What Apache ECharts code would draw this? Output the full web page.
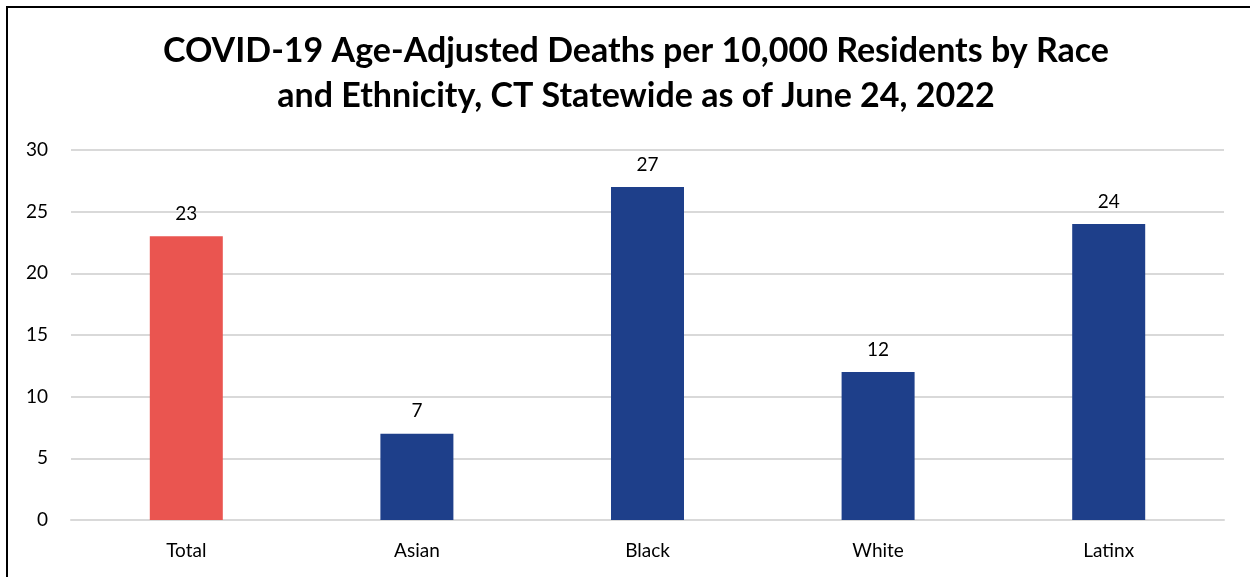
<!DOCTYPE html>
<html>
<head>
<meta charset="utf-8">
<style>
  html, body { margin: 0; padding: 0; background: #fff; }
  #chart { width: 1250px; height: 577px; }
</style>
<script src="https://cdn.jsdelivr.net/npm/echarts@6/dist/echarts.min.js"></script>
</head>
<body>
<div id="chart"></div>
<script>
const categories = ['Total', 'Asian', 'Black', 'White', 'Latinx'];
const deaths = [23, 7, 27, 12, 24];
const barColors = ['#EA5550', '#1E3F8A', '#1E3F8A', '#1E3F8A', '#1E3F8A'];
const titleText = 'COVID-19 Age-Adjusted Deaths per 10,000 Residents by Race\nand Ethnicity, CT Statewide as of June 24, 2022';

const font = 'Lato, "Open Sans", "Noto Sans", sans-serif';
const chart = echarts.init(document.getElementById('chart'), null, { renderer: 'canvas' });

chart.setOption({
  animation: false,
  backgroundColor: '#fff',
  title: {
    text: titleText,
    left: 631,
    textAlign: 'center',
    top: 24,
    textStyle: {
      fontFamily: font,
      fontWeight: 'bold',
      fontSize: 34,
      lineHeight: 45,
      color: '#000'
    }
  },
  graphic: [{
    type: 'rect',
    silent: true,
    shape: { x: 7, y: 7, width: 1300, height: 650 },
    style: { fill: 'none', stroke: '#000', lineWidth: 2 }
  }],
  grid: { left: 71, right: 26, top: 150, bottom: 57, containLabel: false },
  xAxis: {
    type: 'category',
    data: categories,
    axisLine: { show: true, lineStyle: { color: '#d9d9d9', width: 2 } },
    axisTick: { show: false },
    axisLabel: { color: '#000', fontFamily: font, fontSize: 19, margin: 21 }
  },
  yAxis: {
    type: 'value',
    min: 0,
    max: 30,
    interval: 5,
    axisLine: { show: false },
    axisTick: { show: false },
    splitLine: { lineStyle: { color: '#d9d9d9', width: 2 } },
    axisLabel: { color: '#000', fontFamily: font, fontSize: 19, margin: 23 }
  },
  series: [{
    type: 'bar',
    data: deaths.map((v, i) => ({ value: v, itemStyle: { color: barColors[i] } })),
    barWidth: 73,
    label: {
      show: true,
      position: 'top',
      distance: 13,
      color: '#000',
      fontFamily: font,
      fontSize: 19
    }
  }]
});
</script>
</body>
</html>
